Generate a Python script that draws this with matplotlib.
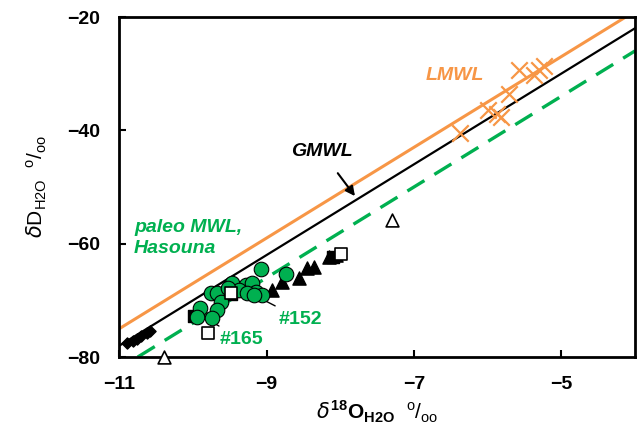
import numpy as np
import matplotlib
matplotlib.use("Agg")
import matplotlib.pyplot as plt

plt.rcParams["font.family"] = ["Liberation Sans", "DejaVu Sans"]
plt.rcParams["mathtext.fontset"] = "custom"
plt.rcParams["mathtext.rm"] = "Liberation Sans"
plt.rcParams["mathtext.bf"] = "Liberation Sans:bold"

# meteoric water lines: dD = slope * d18O + intercept
gmwl = (8.0, 10.0)
lmwl = (8.0, 13.0)
paleo = (8.0, 6.0)

# local rain samples (orange crosses)
rain_x = [-6.37, -5.99, -5.87, -5.82, -5.71, -5.57, -5.37, -5.30, -5.23]
rain_y = [-40.5, -36.4, -37.1, -37.6, -33.6, -29.3, -30.2, -29.3, -28.6]

# green circles
circ_x = [-9.07, -8.73, -9.47, -9.28, -9.20, -9.14, -9.06, -9.37, -9.75,
          -9.67, -9.62, -9.68, -9.74, -9.91, -9.94, -9.53, -9.26, -9.17]
circ_y = [-64.4, -65.3, -66.9, -67.3, -66.9, -68.5, -69.0, -68.1, -68.7,
          -68.7, -70.3, -71.7, -73.1, -71.3, -72.9, -67.8, -68.7, -69.0]

# filled triangles
tri_x = [-8.92, -8.79, -8.56, -8.45, -8.35, -8.15, -8.06]
tri_y = [-68.2, -66.7, -66.0, -64.3, -64.1, -62.3, -62.0]

# open triangles
otri_x = [-10.39, -7.30]
otri_y = [-80.0, -55.8]

# filled squares
sq_x = [-9.98, -9.49, -8.10]
sq_y = [-72.7, -68.9, -62.4]

# open squares
osq_x = [-9.79, -9.49, -7.99]
osq_y = [-75.7, -68.7, -61.8]

# filled diamonds
dia_x = [-10.90, -10.82, -10.76, -10.70, -10.63, -10.58]
dia_y = [-77.5, -77.1, -76.8, -76.3, -75.7, -75.4]

xticks = [-11, -9, -7, -5]
yticks = [-80, -60, -40, -20]

orange = "#f79646"
green = "#00b050"

fig = plt.figure(figsize=(6.38, 4.37), dpi=100)
ax = fig.add_axes([0.187, 0.183, 0.808, 0.778])

xx = np.array([-11.0, -4.0])
ax.plot(xx, lmwl[0] * xx + lmwl[1], color=orange, lw=2.2, zorder=2)
ax.plot(xx, gmwl[0] * xx + gmwl[1], color="black", lw=1.6, zorder=2)
xp = np.array([(-80 - paleo[1]) / paleo[0], -4.0])
ax.plot(xp, paleo[0] * xp + paleo[1], color=green, lw=2.4,
        dashes=(6, 3.5), zorder=2)

ax.scatter(dia_x, dia_y, marker="D", s=32, color="black", zorder=4)
ax.scatter(tri_x, tri_y, marker="^", s=90, color="black", zorder=4)
ax.scatter(sq_x, sq_y, marker="s", s=65, color="black", zorder=4)
ax.scatter(circ_x, circ_y, marker="o", s=110, facecolor=green,
           edgecolor="black", linewidth=0.8, zorder=5)
ax.scatter(osq_x, osq_y, marker="s", s=75, facecolor="white",
           edgecolor="black", linewidth=1.2, zorder=6)
ax.scatter(otri_x, otri_y, marker="^", s=85, facecolor="white",
           edgecolor="black", linewidth=1.2, zorder=6, clip_on=False)
ax.scatter(rain_x, rain_y, marker="x", s=140, color=orange,
           linewidth=1.6, zorder=6)

ax.set_xlim(-11, -4)
ax.set_ylim(-80, -20)
ax.set_xticks(xticks)
ax.set_yticks(yticks)
ax.tick_params(direction="in", length=5, width=1.5, labelsize=14)
ax.tick_params(axis="x", pad=14)
ax.tick_params(axis="y", pad=14)
for lab in ax.get_xticklabels() + ax.get_yticklabels():
    lab.set_fontweight("bold")
for sp in ax.spines.values():
    sp.set_linewidth(2)

ax.set_xlabel(r"$\delta^{\mathbf{18}}\mathbf{O}_{\mathbf{H2O}}$  $^{\rm o}/_{\rm oo}$",
              fontsize=15, labelpad=4)
ax.set_ylabel(r"$\delta$D$_{\rm H2O}$  $^{\rm o}/_{\rm oo}$",
              fontsize=15, labelpad=13)

ax.text(-6.45, -30.3, "LMWL", color=orange, fontsize=14,
        fontweight="bold", style="italic", ha="center", va="center")
ax.annotate("GMWL", xy=(-7.8, -51.6), xytext=(-8.25, -43.8),
            fontsize=14, fontweight="bold", style="italic", ha="center",
            va="center",
            arrowprops=dict(arrowstyle="-|>", color="black", lw=1.5,
                            shrinkA=9, shrinkB=0))
ax.text(-10.8, -59.0, "paleo MWL,\nHasouna", color=green, fontsize=14,
        fontweight="bold", style="italic", ha="left", va="center",
        linespacing=1.3)
ax.annotate("#152", xy=(-9.06, -69.8), xytext=(-8.83, -73.3),
            color=green, fontsize=14, fontweight="bold", ha="left",
            va="center",
            arrowprops=dict(arrowstyle="-", color="black", lw=1.0,
                            shrinkA=3, shrinkB=0))
ax.annotate("#165", xy=(-9.74, -73.8), xytext=(-9.64, -76.9),
            color=green, fontsize=14, fontweight="bold", ha="left",
            va="center",
            arrowprops=dict(arrowstyle="-", color="black", lw=1.0,
                            shrinkA=3, shrinkB=0))

fig.savefig("out.png", dpi=100)
